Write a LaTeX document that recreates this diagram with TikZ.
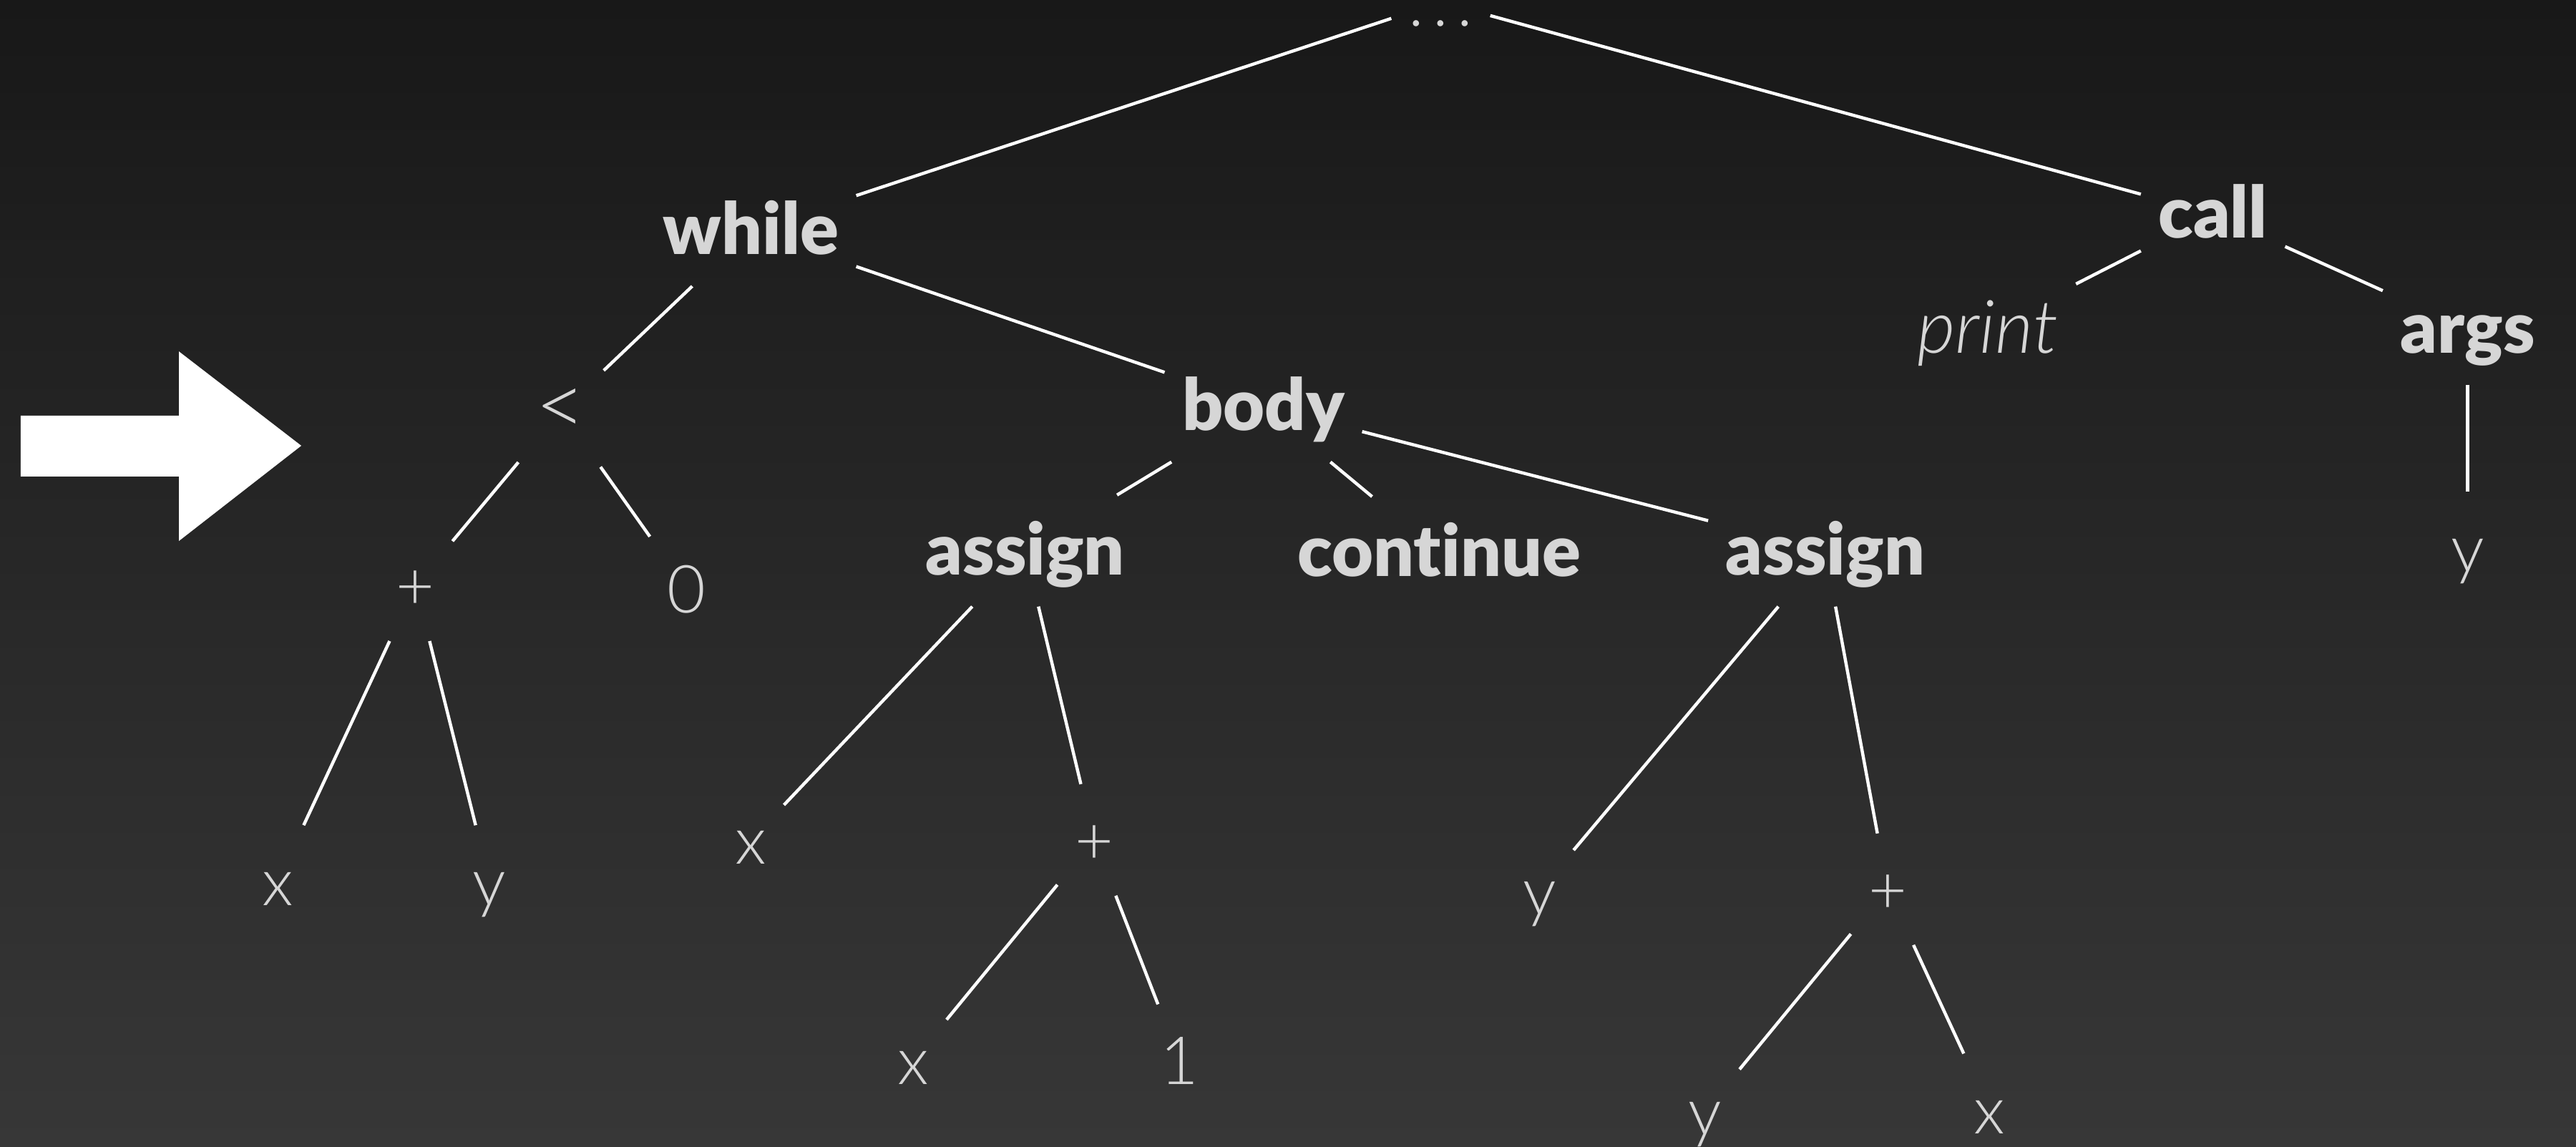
\documentclass[tikz,border=0pt]{standalone}
\usepackage{fontspec}
\setmainfont{Lato Light}[ItalicFont={Lato Light Italic}, BoldFont={Lato Black},
  Ligatures=NoCommon]
\usepackage{xcolor}
\definecolor{labelgray}{HTML}{D6D6D6}
\definecolor{bgtop}{HTML}{181818}
\definecolor{bgbottom}{HTML}{373737}

\begin{document}
\begin{tikzpicture}[
  x=1cm, y=1cm,
  lbl/.style={text=labelgray, inner sep=0.1cm, anchor=base,
              text height=0.38cm, text depth=0.085cm},
  kw/.style={lbl, font=\fontsize{12.4}{14}\selectfont\bfseries},
  leaf/.style={lbl, font=\fontsize{11.5}{14}\selectfont},
  fname/.style={lbl, font=\fontsize{12.8}{14}\selectfont\itshape},
  edge/.style={draw=white, line width=0.55pt},
]
  \useasboundingbox (0,0) rectangle (15.68,-6.98);
  \shade[top color=bgtop, bottom color=bgbottom] (0,0) rectangle (15.68,-6.98);

  % big arrow on the left
  \fill[white] (0.126,-2.53) -- (1.089,-2.53) -- (1.089,-2.139) -- (1.834,-2.713)
    -- (1.089,-3.293) -- (1.089,-2.90) -- (0.126,-2.90) -- cycle;

  % top of the tree
  \node[leaf] (dots) at (8.77,-0.16) {.\kern0.13em.\kern0.13em.};
  \node[kw] (while) at (4.57,-1.55) {while};
  \node[kw] (call) at (13.47,-1.45) {call};

  % call subtree
  \node[fname] (print) at (12.10,-2.15) {print};
  \node[kw] (args) at (15.02,-2.15) {args};
  \node[leaf] (argy) at (15.02,-3.48) {y};

  % condition
  \node[leaf, font=\fontsize{15}{16}\selectfont] (lt) at (3.415,-2.65) {<};
  \node[leaf] (plusA) at (2.53,-3.71) {+};
  \node[leaf] (zero) at (4.18,-3.73) {0};
  \node[leaf] (xA) at (1.69,-5.51) {x};
  \node[leaf] (yA) at (2.98,-5.51) {y};

  % loop body
  \node[kw] (body) at (7.69,-2.62) {body};
  \node[kw] (assignA) at (6.24,-3.50) {assign};
  \node[kw] (cont) at (8.76,-3.51) {continue};
  \node[kw] (assignB) at (11.11,-3.50) {assign};

  \node[leaf] (xB) at (4.57,-5.26) {x};
  \node[leaf] (plusB) at (6.66,-5.26) {+};
  \node[leaf] (xC) at (5.56,-6.60) {x};
  \node[leaf] (one) at (7.18,-6.60) {1};

  \node[leaf] (yB) at (9.37,-5.57) {y};
  \node[leaf] (plusC) at (11.49,-5.56) {+};
  \node[leaf] (yC) at (10.38,-6.91) {y};
  \node[leaf] (xD) at (12.11,-6.90) {x};

  % edges
  \draw[edge] (dots) -- (while);
  \draw[edge] (dots) -- (call);
  \draw[edge] (while) -- (lt);
  \draw[edge] (while) -- (body);
  \draw[edge] (lt) -- (plusA);
  \draw[edge] (lt) -- (zero);
  \draw[edge] (plusA) -- (xA);
  \draw[edge] (plusA) -- (yA);
  \draw[edge] (body) -- (assignA);
  \draw[edge] (body) -- (cont);
  \draw[edge] (body) -- (assignB);
  \draw[edge] (assignA) -- (xB);
  \draw[edge] (assignA) -- (plusB);
  \draw[edge] (plusB) -- (xC);
  \draw[edge] (plusB) -- (one);
  \draw[edge] (assignB) -- (yB);
  \draw[edge] (assignB) -- (plusC);
  \draw[edge] (plusC) -- (yC);
  \draw[edge] (plusC) -- (xD);
  \draw[edge] (call) -- (print);
  \draw[edge] (call) -- (args);
  \draw[edge] (args) -- (argy);

\end{tikzpicture}
\end{document}
